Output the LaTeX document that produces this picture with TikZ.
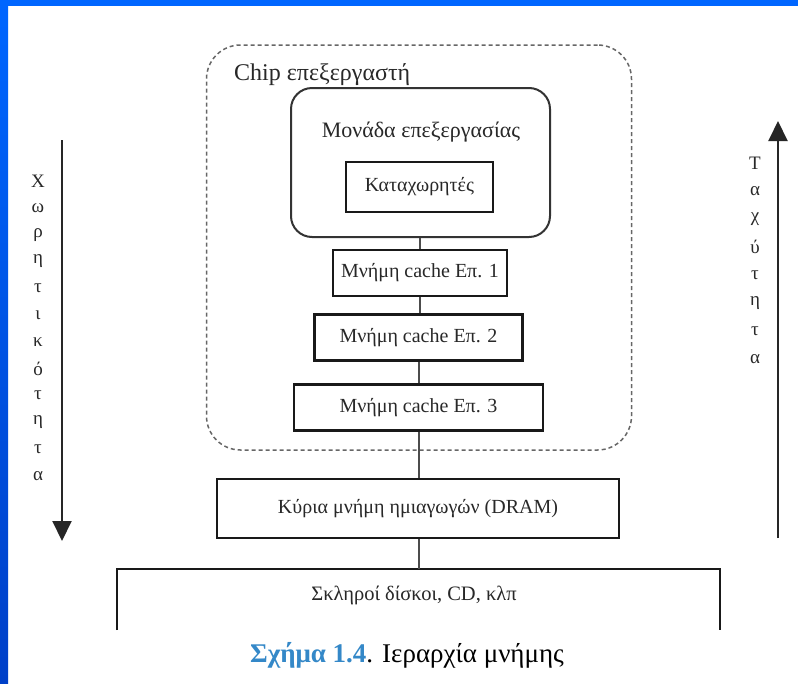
\documentclass[tikz,border=0pt]{standalone}
\usepackage{fontspec}
\setmainfont{Liberation Serif}
\usetikzlibrary{arrows.meta}
\definecolor{slideblue}{RGB}{0,102,255}
\definecolor{slideblue2}{RGB}{0,64,200}
\definecolor{capblue}{RGB}{52,136,200}
\definecolor{txt}{RGB}{40,40,40}
\tikzset{
  boxstyle/.style={draw=black!90, line width=2.4pt, minimum width=#1, inner sep=0pt, text=txt, font=\fontsize{20}{22}\selectfont},
  conn/.style={draw=black!70, line width=1.4pt},
  vletter/.style={text=txt, font=\fontsize{19}{21}\selectfont, inner sep=0pt},
  bigarrow/.style={draw=black!85, line width=2pt, -{Triangle[length=20pt,width=19pt]}},
}
\begin{document}
\begin{tikzpicture}[x=1pt,y=-1pt]
\useasboundingbox (0,0) rectangle (798,683);
\fill[white] (0,0) rectangle (798,683);
\fill[slideblue] (0,0) rectangle (798,6);
\shade[top color=slideblue, bottom color=slideblue2] (0,0) rectangle (8,683);

% chip (dashed)
\node[draw=black!60, line width=1.5pt, dash pattern=on 4pt off 3pt, rounded corners=34pt,
      minimum width=425pt, minimum height=405pt, inner sep=0pt] (chip) at (419,247.5) {};
\node[anchor=west, inner sep=0pt, text=txt, font=\fontsize{24}{26}\selectfont] (chiplabel) at (234,75) {Chip επεξεργαστή};

% processing unit
\node[draw=black!80, line width=2pt, rounded corners=21pt, minimum width=259pt, minimum height=149pt, inner sep=0pt] (pu) at (420.5,162.5) {};
\node[inner sep=0pt, text=txt, font=\fontsize{22}{24}\selectfont] (pulabel) at (421,132) {Μονάδα επεξεργασίας};

\node[boxstyle=147pt, minimum height=50pt] (reg) at (419.5,187) {Καταχωρητές};
\node[boxstyle=174pt, minimum height=46pt] (l1) at (420,273) {Μνήμη cache Επ. 1};
\node[boxstyle=208pt, minimum height=46pt] (l2) at (418.5,337.5) {Μνήμη cache Επ. 2};
\node[boxstyle=249pt, minimum height=46pt] (l3) at (418.5,407.5) {Μνήμη cache Επ. 3};
\node[boxstyle=402pt, minimum height=59pt] (dram) at (418,508.5) {Κύρια μνήμη ημιαγωγών (DRAM)};

% disks (open box)
\coordinate (dtl) at (117,569);
\coordinate (dtr) at (720,569);
\coordinate (dbl) at (117,630);
\coordinate (dbr) at (720,630);
\draw[draw=black!90, line width=2.4pt] (dbl) -- (dtl) -- (dtr) -- (dbr);
\node[inner sep=0pt, text=txt, font=\fontsize{20.5}{22}\selectfont] (disk) at (414,595) {Σκληροί δίσκοι, CD, κλπ};

% connectors
\coordinate (cx) at (420,0);
\coordinate (cy) at (419,0);
\draw[conn] (pu.south -| cx) -- (l1.north -| cx);
\draw[conn] (l1.south -| cx) -- (l2.north -| cx);
\draw[conn] (l2.south -| cy) -- (l3.north -| cy);
\draw[conn] (l3.south -| cy) -- (dram.north -| cy);
\draw[conn] (dram.south -| cy) -- (dtl -| cy);

% side arrows
\coordinate (la1) at (62,140);
\coordinate (la2) at (62,541);
\draw[bigarrow] (la1) -- (la2);
\coordinate (ra1) at (778,538);
\coordinate (ra2) at (778,121);
\draw[bigarrow] (ra1) -- (ra2);

\foreach \c [count=\i from 0] in {Χ,ω,ρ,η,τ,ι,κ,ό,τ,η,τ,α} {
  \node[vletter] (lv\i) at (38,{181+26.8*\i}) {\c};
}
\foreach \c [count=\i from 0] in {Τ,α,χ,ύ,τ,η,τ,α} {
  \node[vletter] (rv\i) at (755,{163+28*\i}) {\c};
}

% caption
\node[inner sep=0pt, font=\fontsize{27}{29}\selectfont] (caption) at (407,655)
  {\textcolor{capblue}{\bfseries Σχήμα 1.4}. Ιεραρχία μνήμης};
\end{tikzpicture}
\end{document}
